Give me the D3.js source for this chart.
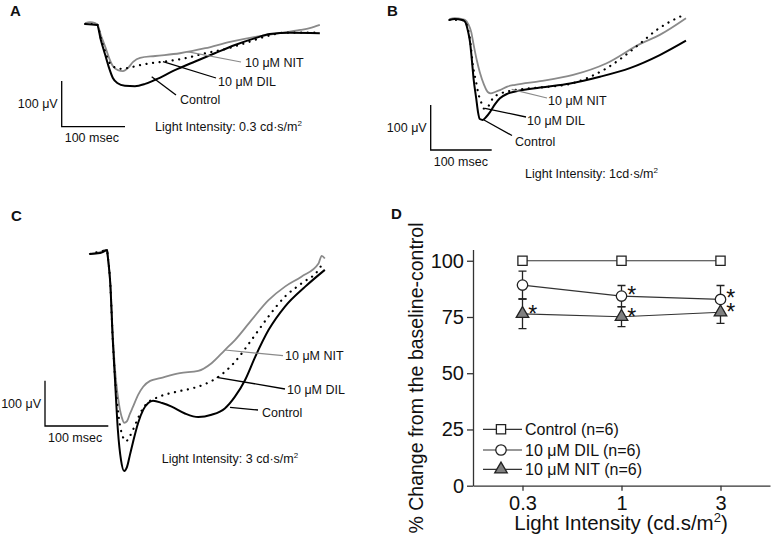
<!DOCTYPE html>
<html><head><meta charset="utf-8">
<script src="https://cdn.jsdelivr.net/npm/d3@7"></script>
<style>body{margin:0;background:#fff}svg{display:block}text{font-family:"Liberation Sans",Arial,sans-serif;fill:#111}</style>
</head><body><svg id="c" width="773" height="542"></svg>
<script>
// ---------- Panel D data ----------
const intensities = ["0.3", "1", "3"];
const controlMean = [100, 100, 100];
const dilMean = [89.2, 84.3, 82.8];
const dilErr = [6.2, 4.7, 6.2];
const nitMean = [76.4, 75.1, 77.1];
const nitErr = [6.6, 4.4, 4.9];
const yTicks = [0, 25, 50, 75, 100];
const legendNames = ["Control (n=6)", "10 \u03BCM DIL (n=6)", "10 \u03BCM NIT (n=6)"];
const dilSig = [false, true, true];
const nitSig = [true, true, true];

// ---------- ERG traces: [time ms, amplitude µV] ----------
const traceA_control = [[0,0],[19,-2],[25,-35],[32,-68],[38,-96],[44,-118],[51,-129],[63,-135],[79,-136],[95,-131],[111,-122],[142,-101],[174,-82],[205,-64],[237,-46],[269,-31],[292,-22],[324,-19],[371,-20]];
const traceA_dil = [[0,0],[19,0],[25,-31],[32,-61],[38,-83],[46,-94],[55,-98],[68,-96],[87,-90],[103,-86],[126,-82],[158,-75],[190,-64],[221,-55],[253,-42],[284,-28],[316,-19],[340,-19],[371,-19]];
const traceA_nit = [[0,2],[8,4],[16,2],[20,-2],[25,-24],[32,-50],[38,-74],[44,-92],[52,-101],[60,-103],[68,-96],[76,-83],[87,-74],[111,-70],[150,-64],[190,-53],[229,-39],[269,-28],[308,-20],[340,-13],[355,-9],[371,-2]];

const traceB_control = [[0,0],[9,2],[21,0],[26,-4],[31,-27],[34,-49],[37,-89],[40,-133],[44,-173],[47,-204],[50,-220],[55,-222],[60,-216],[67,-204],[75,-187],[83,-174],[95,-164],[108,-159],[149,-150],[198,-141],[247,-126],[296,-107],[345,-78],[388,-46]];
const traceB_dil = [[0,0],[21,0],[26,-4],[31,-22],[34,-44],[39,-104],[44,-138],[47,-160],[52,-182],[57,-197],[62,-196],[67,-184],[72,-173],[83,-164],[95,-159],[116,-154],[149,-150],[198,-142],[231,-126],[258,-107],[285,-82],[313,-52],[340,-22],[373,4],[388,13]];
const traceB_nit = [[0,2],[9,4],[21,2],[26,0],[31,-9],[36,-27],[40,-56],[45,-89],[50,-116],[57,-144],[63,-160],[68,-163],[75,-160],[83,-156],[95,-148],[108,-144],[149,-136],[203,-122],[258,-96],[313,-53],[345,-33],[388,4]];

const traceC_control = [[0,0],[16,2],[24,7],[27,9],[28,-4],[32,-64],[36,-190],[39.5,-278],[44,-388],[49,-455],[54,-479],[58.5,-470],[63,-444],[68,-415],[76,-373],[84,-344],[92,-329],[99.5,-324],[114,-329],[129,-337],[150,-352],[171,-360],[192,-355],[213,-341],[229,-315],[245,-278],[261,-227],[282,-168],[308,-116],[340,-72],[371,-35]];
const traceC_dil = [[0,0],[27,7],[28,-4],[32,-64],[36,-190],[41,-300],[46,-366],[51,-400],[57,-413],[63,-402],[68,-388],[76,-362],[84,-340],[92,-327],[101,-320],[111,-314],[137,-304],[163,-296],[182,-287],[203,-271],[229,-238],[255,-190],[282,-138],[308,-94],[334,-65],[361,-35],[366,-24]];
const traceC_nit = [[0,0],[16,4],[24,9],[27,9],[28,-4],[32,-64],[36,-179],[41,-278],[46,-333],[51,-364],[54,-373],[58.5,-369],[63,-353],[68,-337],[76,-311],[84,-293],[95,-280],[111,-274],[142,-263],[171,-258],[192,-241],[213,-212],[229,-190],[255,-146],[282,-102],[308,-72],[334,-50],[361,-21],[366,-4],[371,-10]];

// ---------- drawing ----------
const svg = d3.select("#c");
svg.append("rect").attr("width", 773).attr("height", 542).attr("fill", "#fff");

function panelLetter(txt, x, y) {
  svg.append("text").attr("x", x).attr("y", y).attr("font-size", 15).attr("font-weight", "bold").text(txt);
}

function drawTracePanel(cfg) {
  const g = svg.append("g");
  const x = d3.scaleLinear().domain([0, 100]).range([cfg.x0, cfg.x0 + cfg.msPx]);
  const y = d3.scaleLinear().domain([0, 100]).range([cfg.y0, cfg.y0 - cfg.uvPx]);
  const line = d3.line().x(d => x(d[0])).y(d => y(d[1])).curve(d3.curveMonotoneX);
  g.append("path").attr("d", line(cfg.nit)).attr("fill", "none").attr("stroke", "#8a8a8a").attr("stroke-width", 1.8);
  g.append("path").attr("d", line(cfg.control)).attr("fill", "none").attr("stroke", "#000").attr("stroke-width", 2);
  g.append("path").attr("d", line(cfg.dil)).attr("fill", "none").attr("stroke", "#000").attr("stroke-width", 2.2)
    .attr("stroke-dasharray", "0.1,6.5").attr("stroke-linecap", "round");
  // scale bar: 100 µV and 100 ms, lengths through the scales
  const bx = cfg.bar[0], by = cfg.bar[1];
  const vLen = y(0) - y(100), hLen = x(100) - x(0);
  g.append("path").attr("d", `M${bx},${by - vLen}V${by}H${bx + hLen}`).attr("fill", "none").attr("stroke", "#000").attr("stroke-width", 1.3);
  g.append("text").attr("x", bx - 4).attr("y", by - vLen / 2 + 4.5).attr("text-anchor", "end").attr("font-size", 12.5).text("100 \u03BCV");
  g.append("text").attr("x", bx + 3).attr("y", by + 15.5).attr("font-size", 12.5).text("100 msec");
  // annotations
  cfg.labels.forEach(l => {
    g.append("line").attr("x1", l.from[0]).attr("y1", l.from[1]).attr("x2", l.to[0]).attr("y2", l.to[1])
      .attr("stroke", l.gray ? "#8a8a8a" : "#000").attr("stroke-width", l.gray ? 1.2 : 1.3);
    g.append("text").attr("x", l.at[0]).attr("y", l.at[1]).attr("font-size", 12.5).text(l.text);
  });
  const t = g.append("text").attr("x", cfg.intAt[0]).attr("y", cfg.intAt[1]).attr("font-size", 12.5);
  t.append("tspan").text(cfg.intText);
  t.append("tspan").attr("font-size", 8).attr("dy", -5).text("2");
}

panelLetter("A", 10, 16);
panelLetter("B", 387, 16);
panelLetter("C", 11, 221);
panelLetter("D", 391, 219);

drawTracePanel({
  x0: 85, msPx: 63.3, y0: 24, uvPx: 45.7, bar: [61.7, 126.7],
  control: traceA_control, dil: traceA_dil, nit: traceA_nit,
  labels: [
    {text: "10 \u03BCM NIT", at: [245, 66.5], from: [187, 51.7], to: [241, 62], gray: true},
    {text: "10 \u03BCM DIL", at: [218, 85.5], from: [163, 61.7], to: [216, 78]},
    {text: "Control", at: [180, 104], from: [151.7, 76.7], to: [176, 95]}
  ],
  intAt: [155, 131], intText: "Light Intensity: 0.3 cd\u00B7s/m"
});

drawTracePanel({
  x0: 449.3, msPx: 61, y0: 20, uvPx: 45, bar: [430.7, 150],
  control: traceB_control, dil: traceB_dil, nit: traceB_nit,
  labels: [
    {text: "10 \u03BCM NIT", at: [548, 104.5], from: [511.7, 89.3], to: [547, 98], gray: true},
    {text: "10 \u03BCM DIL", at: [527, 124.5], from: [485, 108.3], to: [526, 117]},
    {text: "Control", at: [515, 145.5], from: [484, 120], to: [512, 135.5]}
  ],
  intAt: [525, 177.5], intText: "Light Intensity: 1cd\u00B7s/m"
});

drawTracePanel({
  x0: 90, msPx: 63.3, y0: 254, uvPx: 45.3, bar: [45, 426],
  control: traceC_control, dil: traceC_dil, nit: traceC_nit,
  labels: [
    {text: "10 \u03BCM NIT", at: [285, 360], from: [225, 350], to: [283, 355.7], gray: true},
    {text: "10 \u03BCM DIL", at: [287, 393.5], from: [216.7, 377.3], to: [285, 389]},
    {text: "Control", at: [262, 417], from: [230, 407.3], to: [258, 410]}
  ],
  intAt: [161.7, 462.5], intText: "Light Intensity: 3 cd\u00B7s/m"
});

// ---------- Panel D ----------
const gD = svg.append("g");
const xD = d3.scaleLinear().domain([0, 3]).range([473, 770]);
const yD = d3.scaleLinear().domain([0, 105]).range([485.7, 249.5]);
const pos = i => xD(i + 0.5);
const axColor = "#333";

const yAxis = gD.append("g").attr("transform", "translate(473,0)")
  .call(d3.axisLeft(yD).tickValues(yTicks).tickSize(6).tickSizeOuter(0).tickPadding(3));
const xAxis = gD.append("g").attr("transform", "translate(0,485.7)")
  .call(d3.axisBottom(xD).tickValues([0.5, 1.5, 2.5]).tickFormat((d, i) => intensities[i]).tickSize(5).tickSizeOuter(0).tickPadding(5));
[yAxis, xAxis].forEach(a => {
  a.selectAll("path,line").attr("stroke", axColor).attr("stroke-width", 1.3);
  a.selectAll("text").attr("font-size", 20).attr("font-family", '"Liberation Sans",Arial,sans-serif').attr("fill", "#111");
});

gD.append("text").attr("transform", "translate(423,378) rotate(-90)").attr("text-anchor", "middle").attr("font-size", 19.5)
  .text("% Change from the baseline-control");
const xl = gD.append("text").attr("x", 621).attr("y", 530).attr("text-anchor", "middle").attr("font-size", 20.5);
xl.append("tspan").text("Light Intensity (cd.s/m");
xl.append("tspan").attr("font-size", 13).attr("dy", -8).text("2");
xl.append("tspan").attr("dy", 8).text(")");

const lineD = d3.line().x((d, i) => pos(i)).y(d => yD(d));
// error bars
function errBars(mean, err) {
  mean.forEach((m, i) => {
    const x = pos(i);
    gD.append("path").attr("d", `M${x},${yD(m - err[i])}V${yD(m + err[i])}M${x - 4},${yD(m - err[i])}H${x + 4}M${x - 4},${yD(m + err[i])}H${x + 4}`)
      .attr("stroke", "#222").attr("stroke-width", 1.3).attr("fill", "none");
  });
}
errBars(dilMean, dilErr);
errBars(nitMean, nitErr);
[controlMean, dilMean, nitMean].forEach(s => {
  gD.append("path").attr("d", lineD(s)).attr("fill", "none").attr("stroke", "#333").attr("stroke-width", 1.2);
});

const sq = d3.symbol().type(d3.symbolSquare).size(85);
const ci = d3.symbol().type(d3.symbolCircle).size(85);
const tri = d3.symbol().type(d3.symbolTriangle).size(68);
function markers(mean, sym, fill) {
  mean.forEach((m, i) => {
    gD.append("path").attr("d", sym()).attr("transform", `translate(${pos(i)},${yD(m)})`)
      .attr("fill", fill).attr("stroke", "#222").attr("stroke-width", 1.3);
  });
}
markers(controlMean, sq, "#fff");
markers(dilMean, ci, "#fff");
markers(nitMean, tri, "#808080");

function stars(mean, sig, dy) {
  mean.forEach((m, i) => {
    if (!sig[i]) return;
    gD.append("text").attr("x", pos(i) + 5.8).attr("y", yD(m) + dy).attr("font-size", 23).text("*");
  });
}
stars(dilMean, dilSig, 7);
stars(nitMean, nitSig, 8);

// legend
const legSyms = [[sq, "#fff"], [ci, "#fff"], [tri, "#808080"]];
const legY = [429.3, 450, 469.3];
legendNames.forEach((name, i) => {
  const y = legY[i];
  gD.append("line").attr("x1", 483).attr("x2", 522).attr("y1", y).attr("y2", y).attr("stroke", "#333").attr("stroke-width", 1.2);
  gD.append("path").attr("d", legSyms[i][0]()).attr("transform", `translate(501,${y})`)
    .attr("fill", legSyms[i][1]).attr("stroke", "#222").attr("stroke-width", 1.3);
  gD.append("text").attr("x", 525).attr("y", y + 5.8).attr("font-size", 16).text(name);
});
</script></body></html>
